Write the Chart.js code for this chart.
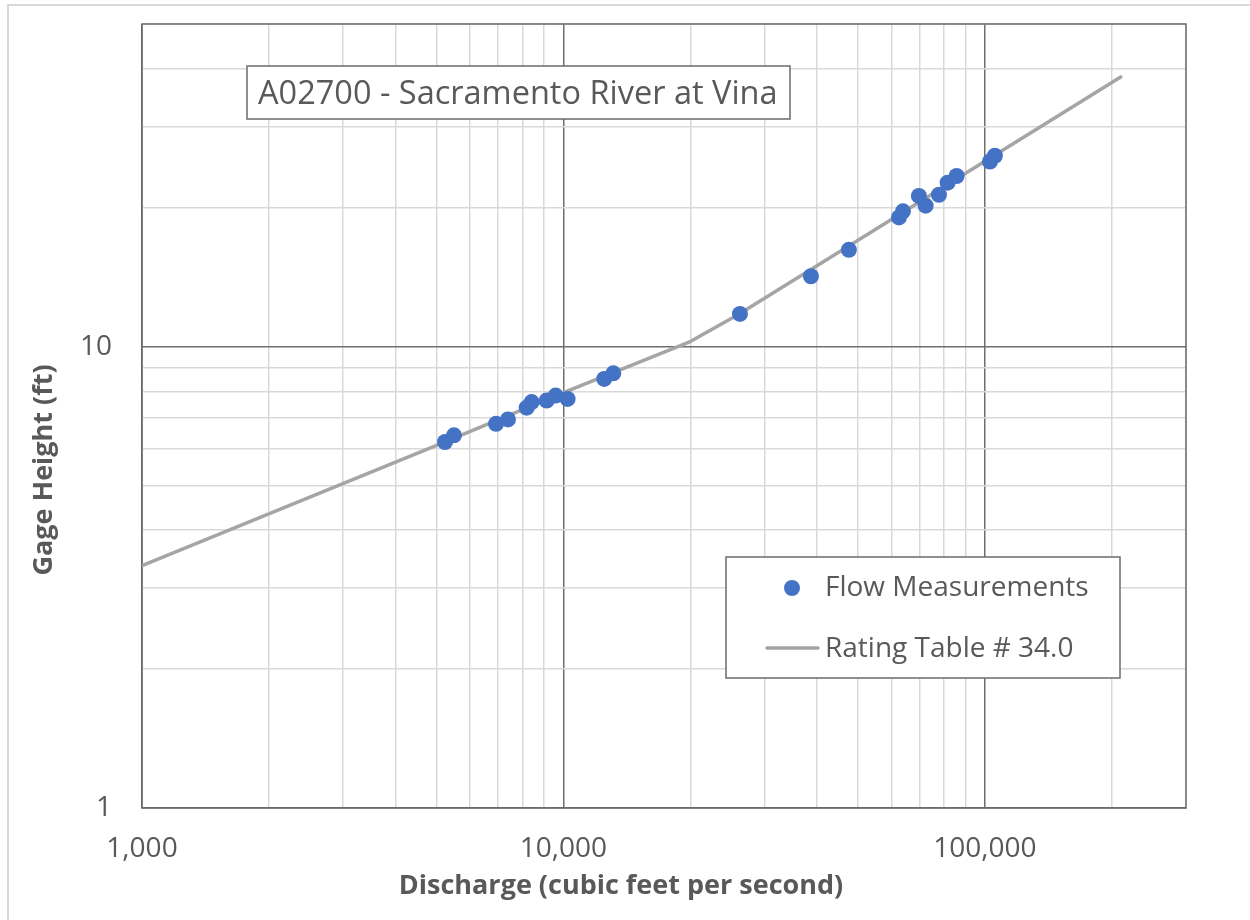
<!DOCTYPE html>
<html lang="en">
<head>
  <meta charset="UTF-8">
  <title>A02700 - Sacramento River at Vina</title>
  <style>
    body {
      margin: 0;
      background: #ffffff;
    }
    #wrap {
      position: relative;
      width: 1250px;
      height: 920px;
    }
  </style>
</head>
<body>
  <div id="wrap">
    <canvas id="rating" width="1250" height="920"></canvas>
  </div>
  <script src="https://cdn.jsdelivr.net/npm/chart.js"></script>
  <script>
    // Flow measurements (discharge in cfs, gage height in ft)
    const flowQ = [5235, 5498, 6918, 7385, 8180, 8405, 9124, 9583, 10230, 12495, 13130,
                   26227, 38655, 47560, 62520, 63900, 69720, 72330, 77790, 81560, 85680, 102780, 105600];
    const flowH = [6.21, 6.42, 6.80, 6.95, 7.37, 7.58, 7.64, 7.83, 7.70, 8.51, 8.75,
                   11.77, 14.20, 16.20, 19.05, 19.63, 21.20, 20.20, 21.33, 22.65, 23.42, 25.18, 25.91];

    // Rating table # 34.0
    const ratingQ = [1000, 5000, 10000, 20000, 26000, 50000, 100000, 210000];
    const ratingH = [3.35, 6.11, 7.95, 10.25, 11.73, 17.0, 25.2, 38.4];

    const xRange = [1000, 300000];
    const yRange = [1, 50];

    const chartTitle = 'A02700 - Sacramento River at Vina';
    const xTitle = 'Discharge (cubic feet per second)';
    const yTitle = 'Gage Height (ft)';
    const seriesNames = ['Flow Measurements', 'Rating Table # 34.0'];

    const FONT = "'Open Sans', sans-serif";
    const TEXT = '#595959';

    function isDecade(v) {
      const l = Math.log10(v);
      return Math.abs(l - Math.round(l)) < 1e-9;
    }

    // 1..9 in every decade, so every gridline shows like Excel does
    function logTicks(min, max) {
      const out = [];
      for (let p = Math.floor(Math.log10(min)); Math.pow(10, p) <= max; p++) {
        for (let m = 1; m <= 9; m++) {
          const v = m * Math.pow(10, p);
          if (v >= min && v <= max) out.push({ value: v });
        }
      }
      return out;
    }

    function pairs(xs, ys) {
      return xs.map((x, i) => ({ x: x, y: ys[i] }));
    }

    const gridColor = (ctx) => (ctx.tick && isDecade(ctx.tick.value)) ? '#6e6e6e' : '#d9d9d9';

    const decorations = {
      id: 'decorations',
      beforeDraw(chart) {
        const ctx = chart.ctx;
        ctx.save();
        ctx.fillStyle = '#ffffff';
        ctx.fillRect(0, 0, chart.width, chart.height);
        // outer chart border (only top and left visible in the crop)
        ctx.fillStyle = '#d9d9d9';
        ctx.fillRect(7, 4, chart.width - 7, 2);
        ctx.fillRect(7, 4, 2, chart.height - 4);
        ctx.restore();
      },
      beforeDatasetsDraw(chart) {
        const { ctx, chartArea: a } = chart;
        ctx.save();
        ctx.strokeStyle = '#6b6b6b';
        ctx.lineWidth = 1.5;
        ctx.strokeRect(a.left, a.top, a.right - a.left, a.bottom - a.top);
        ctx.restore();
      },
      afterDraw(chart) {
        const ctx = chart.ctx;
        ctx.save();

        // axis titles (Excel centres them on the whole chart, not the plot)
        ctx.fillStyle = TEXT;
        ctx.font = 'bold 27px ' + FONT;
        ctx.textAlign = 'center';
        ctx.textBaseline = 'middle';
        ctx.fillText(xTitle, 621, 886);
        ctx.save();
        ctx.translate(44, 470);
        ctx.rotate(-Math.PI / 2);
        ctx.fillText(yTitle, 0, 0);
        ctx.restore();
        ctx.textAlign = 'left';

        // title text box
        ctx.fillStyle = '#ffffff';
        ctx.fillRect(247, 66, 543, 53);
        ctx.strokeStyle = '#6b6b6b';
        ctx.lineWidth = 1.5;
        ctx.strokeRect(247, 66, 543, 53);
        ctx.fillStyle = TEXT;
        ctx.font = '32.5px ' + FONT;
        ctx.textBaseline = 'alphabetic';
        ctx.fillText(chartTitle, 258, 104);

        // legend box
        ctx.fillStyle = '#ffffff';
        ctx.fillRect(726, 557, 394, 121);
        ctx.strokeRect(726, 557, 394, 121);

        const ds = chart.data.datasets;
        ctx.fillStyle = ds[0].backgroundColor;
        ctx.beginPath();
        ctx.arc(792, 588, 8, 0, Math.PI * 2);
        ctx.fill();

        ctx.strokeStyle = ds[1].borderColor;
        ctx.lineWidth = ds[1].borderWidth;
        ctx.lineCap = 'round';
        ctx.beginPath();
        ctx.moveTo(767, 648);
        ctx.lineTo(818, 648);
        ctx.stroke();

        ctx.fillStyle = TEXT;
        ctx.font = '28px ' + FONT;
        ctx.fillText(ds[0].label, 825, 596);
        ctx.fillText(ds[1].label, 825, 657);
        ctx.restore();
      }
    };

    new Chart(document.getElementById('rating'), {
      type: 'scatter',
      data: {
        datasets: [
          {
            label: seriesNames[0],
            data: pairs(flowQ, flowH),
            backgroundColor: '#4472c4',
            borderColor: '#4472c4',
            borderWidth: 0,
            pointRadius: 8,
            showLine: false
          },
          {
            label: seriesNames[1],
            data: pairs(ratingQ, ratingH),
            borderColor: '#a5a5a5',
            backgroundColor: '#a5a5a5',
            borderWidth: 3.5,
            borderCapStyle: 'round',
            borderJoinStyle: 'round',
            pointRadius: 0,
            showLine: true,
            tension: 0
          }
        ]
      },
      options: {
        responsive: false,
        animation: false,
        devicePixelRatio: 1,
        layout: { padding: { left: 0, top: 24, right: 64, bottom: 0 } },
        plugins: {
          legend: { display: false },
          tooltip: { enabled: false }
        },
        scales: {
          x: {
            type: 'logarithmic',
            min: xRange[0],
            max: xRange[1],
            afterBuildTicks: (scale) => { scale.ticks = logTicks(xRange[0], xRange[1]); },
            afterFit: (scale) => { scale.height = 112; scale.paddingLeft = 0; scale.paddingRight = 0; },
            border: { display: false },
            grid: { color: gridColor, lineWidth: 1.5, drawTicks: false },
            ticks: {
              autoSkip: false,
              maxRotation: 0,
              padding: 24,
              color: TEXT,
              font: { family: FONT, size: 28 },
              callback: (v) => isDecade(v) ? Number(v).toLocaleString('en-US') : ''
            },
            title: { display: false, text: xTitle }
          },
          y: {
            type: 'logarithmic',
            min: yRange[0],
            max: yRange[1],
            afterBuildTicks: (scale) => { scale.ticks = logTicks(yRange[0], yRange[1]); },
            afterFit: (scale) => { scale.width = 142; scale.paddingTop = 0; scale.paddingBottom = 0; },
            border: { display: false },
            grid: { color: gridColor, lineWidth: 1.5, drawTicks: false },
            ticks: {
              autoSkip: false,
              padding: 30,
              color: TEXT,
              font: { family: FONT, size: 28 },
              callback: (v) => isDecade(v) ? Number(v).toLocaleString('en-US') : ''
            },
            title: { display: false, text: yTitle }
          }
        }
      },
      plugins: [decorations]
    });
  </script>
</body>
</html>
